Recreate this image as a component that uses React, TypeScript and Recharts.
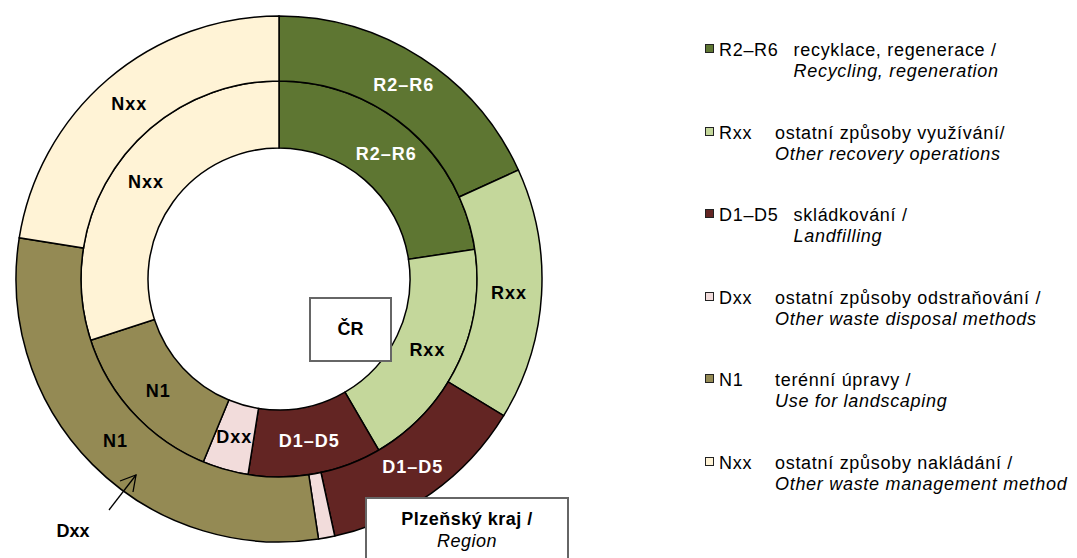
import React from "react";
import { PieChart, Pie, Cell, Legend } from "recharts";

// ---- data ----
const categories = ["R2–R6", "Rxx", "D1–D5", "Dxx", "N1", "Nxx"];
const czValues = [22.6, 19.0, 10.9, 3.75, 13.75, 30.0]; // inner ring: ČR
const regionValues = [18.2, 15.5, 12.9, 1.0, 29.9, 22.5]; // outer ring: Plzeňský kraj
const descCz = [
  "recyklace, regenerace /",
  "ostatní způsoby využívání/",
  "skládkování /",
  "ostatní způsoby odstraňování /",
  "terénní úpravy /",
  "ostatní způsoby nakládání /",
];
const descEn = [
  "Recycling, regeneration",
  "Other recovery operations",
  "Landfilling",
  "Other waste disposal methods",
  "Use for landscaping",
  "Other waste management method",
];
const innerTitle = "ČR";
const outerTitle = ["Plzeňský kraj /", "Region"];

// ---- styles ----
const colors = ["#5E7632", "#C4D79B", "#632523", "#F2DCDB", "#948A54", "#FFF3D6"];
const labelColors = ["#FFFFFF", "#000000", "#FFFFFF", "#000000", "#000000", "#000000"];
const FONT = '"Liberation Sans", Arial, sans-serif';

const czData = categories.map((name, i) => ({ name, value: czValues[i] }));
const regionData = categories.map((name, i) => ({ name, value: regionValues[i] }));

const RADIAN = Math.PI / 180;

const makeLabel = (skipIndex: number | null) => (props: any) => {
  const { cx, cy, midAngle, innerRadius, outerRadius, index } = props;
  if (skipIndex !== null && index === skipIndex) {
    // external annotation for the thin slice
    return (
      <g key={`ann-${index}`}>
        <text
          x={cx - 206}
          y={cy + 252}
          textAnchor="middle"
          dominantBaseline="central"
          fontFamily={FONT}
          fontWeight="bold"
          fontSize={18}
          fill="#000"
        >
          {categories[index]}
        </text>
        <line x1={cx - 170} y1={cy + 231} x2={cx - 143} y2={cy + 196} stroke="#000" strokeWidth={1.3} />
        <polyline
          points={`${cx - 159},${cy + 202} ${cx - 143},${cy + 196} ${cx - 146},${cy + 213}`}
          fill="none"
          stroke="#000"
          strokeWidth={1.3}
        />
      </g>
    );
  }
  const r = (innerRadius + outerRadius) / 2;
  const x = cx + r * Math.cos(-midAngle * RADIAN);
  const y = cy + r * Math.sin(-midAngle * RADIAN);
  return (
    <text
      key={`lab-${index}`}
      x={x}
      y={y}
      textAnchor="middle"
      dominantBaseline="central"
      fontFamily={FONT}
      fontWeight="bold"
      fontSize={18}
      letterSpacing={1}
      fill={labelColors[index]}
    >
      {categories[index]}
    </text>
  );
};

const renderLegend = () => (
  <div style={{ position: "relative", width: 372, height: 500, fontFamily: FONT, fontSize: 18, color: "#000" }}>
    {categories.map((code, i) => (
      <div key={code} style={{ position: "absolute", left: 0, top: i * 82.5, height: 44, width: 372 }}>
        <span
          style={{
            position: "absolute",
            left: 0,
            top: 4,
            width: 7,
            height: 7,
            border: "1px solid #222",
            background: colors[i],
          }}
        />
        <div
          style={{
            position: "absolute",
            left: 14,
            top: 0,
            display: "flex",
            lineHeight: "21px",
            letterSpacing: "0.7px",
            whiteSpace: "nowrap",
          }}
        >
          <span style={{ minWidth: 56, paddingRight: 15, boxSizing: "border-box" }}>{code}</span>
          <div>
            <div>{descCz[i]}</div>
            <div style={{ fontStyle: "italic" }}>{descEn[i]}</div>
          </div>
        </div>
      </div>
    ))}
  </div>
);

export default function App() {
  return (
    <div style={{ position: "relative", width: 1069, height: 550, overflow: "hidden", fontFamily: FONT }}>
      <style>{"html,body{overflow:hidden}"}</style>
      <PieChart width={1069} height={550}>
        <Pie
          data={czData}
          dataKey="value"
          nameKey="name"
          cx={266}
          cy={266}
          innerRadius={131}
          outerRadius={198}
          startAngle={90}
          endAngle={-270}
          stroke="#000"
          strokeWidth={1.5}
          isAnimationActive={false}
          labelLine={false}
          label={makeLabel(null)}
        >
          {czData.map((d, i) => (
            <Cell key={d.name} fill={colors[i]} stroke="#000" strokeWidth={1.5} />
          ))}
        </Pie>
        <Pie
          data={regionData}
          dataKey="value"
          nameKey="name"
          cx={266}
          cy={266}
          innerRadius={198}
          outerRadius={263}
          startAngle={90}
          endAngle={-270}
          stroke="#000"
          strokeWidth={1.5}
          isAnimationActive={false}
          labelLine={false}
          label={makeLabel(3)}
        >
          {regionData.map((d, i) => (
            <Cell key={d.name} fill={colors[i]} stroke="#000" strokeWidth={1.5} />
          ))}
        </Pie>
        <Legend
          content={renderLegend}
          wrapperStyle={{ position: "absolute", left: 697, top: 32, width: 372, height: 500 }}
        />
      </PieChart>
      <div
        style={{
          position: "absolute",
          left: 301,
          top: 289,
          width: 83,
          height: 65,
          boxSizing: "border-box",
          border: "2px solid #666",
          background: "#fff",
          display: "flex",
          alignItems: "center",
          justifyContent: "center",
          fontWeight: "bold",
          fontSize: 18,
        }}
      >
        {innerTitle}
      </div>
      <div
        style={{
          position: "absolute",
          left: 357,
          top: 489,
          width: 204,
          height: 90,
          boxSizing: "border-box",
          border: "2px solid #666",
          background: "#fff",
          textAlign: "center",
          fontSize: 18,
          lineHeight: "22px",
          paddingTop: 9,
          letterSpacing: "0.5px",
        }}
      >
        <div style={{ fontWeight: "bold" }}>{outerTitle[0]}</div>
        <div style={{ fontStyle: "italic" }}>{outerTitle[1]}</div>
      </div>
    </div>
  );
}
